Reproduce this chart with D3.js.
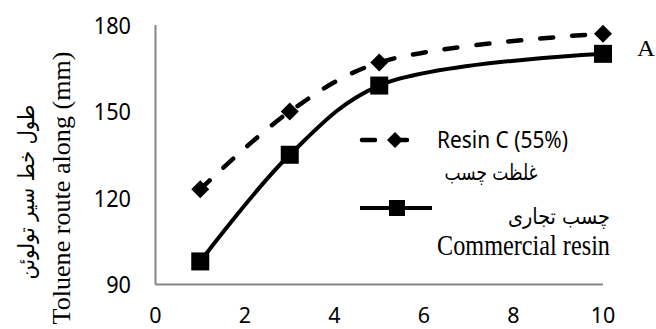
<!DOCTYPE html>
<html><head><meta charset="utf-8">
<script src="https://cdn.jsdelivr.net/npm/d3@7"></script>
<style>body{margin:0;background:#fff}svg{display:block}</style>
</head><body>
<script>
const xValues = [1, 3, 5, 10];
const resinC = [123, 150, 167, 177];
const commercial = [98, 135, 159, 170];
const xTicks = [0, 2, 4, 6, 8, 10];
const yTicks = [90, 120, 150, 180];

const W = 656, H = 329;
const svg = d3.select("body").append("svg").attr("width", W).attr("height", H);
const x = d3.scaleLinear().domain([0, 10]).range([155.5, 603]);
const y = d3.scaleLinear().domain([90, 180]).range([284.5, 25]);

const SANS = "'Noto Sans', sans-serif";
const SERIF = "'Liberation Serif', 'Times New Roman', serif";
const ARAB = "'DejaVu Sans', sans-serif";

function addText(str, px, py, o) {
  const t = svg.append("text")
    .attr("x", px).attr("y", py)
    .attr("text-anchor", o.anchor || "start")
    .attr("font-family", o.family).attr("font-size", o.size)
    .attr("fill", "#000").text(str);
  if (o.len) t.attr("textLength", o.len).attr("lengthAdjust", "spacingAndGlyphs");
  if (o.rotate) t.attr("transform", `rotate(${o.rotate},${px},${py})`);
  return t;
}

// axes
svg.append("line").attr("x1", x(0)).attr("x2", x(10)).attr("y1", y(90)).attr("y2", y(90))
  .attr("stroke", "#868686").attr("stroke-width", 2);
svg.append("line").attr("x1", x(0)).attr("x2", x(0)).attr("y1", y(90)).attr("y2", y(180))
  .attr("stroke", "#868686").attr("stroke-width", 2);

xTicks.forEach(d => addText(String(d), x(d), 322.5, {anchor: "middle", family: SANS, size: 21, len: String(d).length * 12.3}));
yTicks.forEach(d => addText(String(d), 131, y(d) + 8.5, {anchor: "end", family: SANS, size: 23, len: String(d).length * 12.4}));

// axis titles
addText("Toluene route along (mm)", 70, 188, {anchor: "middle", family: SERIF, size: 26, len: 273, rotate: -90});
addText("طول خط سیر تولوئن", 34, 192, {anchor: "middle", family: ARAB, size: 22, len: 175, rotate: -90});

const line = d3.line().x(d => x(d[0])).y(d => y(d[1])).curve(d3.curveCatmullRom.alpha(0.5));
const dC = xValues.map((v, i) => [v, resinC[i]]);
const dM = xValues.map((v, i) => [v, commercial[i]]);

svg.append("path").attr("d", line(dC)).attr("fill", "none").attr("stroke", "#000")
  .attr("stroke-width", 4.5).attr("stroke-dasharray", "13,19").attr("stroke-linecap", "round");
svg.append("path").attr("d", line(dM)).attr("fill", "none").attr("stroke", "#000")
  .attr("stroke-width", 4);

function diamondPath(s){ return `M0,${-s}L${s},0L0,${s}L${-s},0Z`; }
svg.selectAll(".dm").data(dC).join("path")
  .attr("d", diamondPath(9)).attr("transform", d => `translate(${x(d[0])},${y(d[1])})`).attr("fill", "#000");
svg.selectAll(".sq").data(dM).join("rect")
  .attr("x", d => x(d[0]) - 9).attr("y", d => y(d[1]) - 9).attr("width", 18).attr("height", 18).attr("fill", "#000");

// legend
svg.append("line").attr("x1", 362).attr("x2", 413).attr("y1", 140).attr("y2", 140)
  .attr("stroke", "#000").attr("stroke-width", 4.5).attr("stroke-dasharray", "13,19").attr("stroke-linecap", "round");
svg.append("path").attr("d", diamondPath(8)).attr("transform", "translate(395,140)").attr("fill", "#000");
addText("Resin C (55%)", 437, 148, {family: SANS, size: 24, len: 131});
addText("غلظت چسب", 491, 180, {anchor: "middle", family: ARAB, size: 22, len: 93});
svg.append("line").attr("x1", 360).attr("x2", 432).attr("y1", 208).attr("y2", 208)
  .attr("stroke", "#000").attr("stroke-width", 4);
svg.append("rect").attr("x", 389).attr("y", 200).attr("width", 16).attr("height", 16).attr("fill", "#000");
addText("چسب تجاری", 559, 224, {anchor: "middle", family: ARAB, size: 22, len: 102});
addText("Commercial resin", 437, 255, {family: SERIF, size: 30, len: 173});
addText("A", 637, 56, {family: SERIF, size: 24, len: 18});
</script>
</body></html>
